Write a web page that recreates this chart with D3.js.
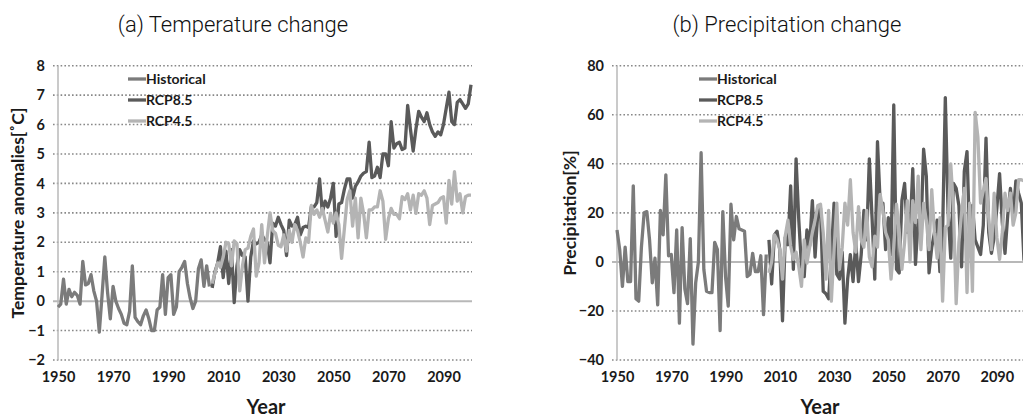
<!DOCTYPE html>
<html>
<head>
<meta charset="utf-8">
<script src="https://cdn.jsdelivr.net/npm/d3@7"></script>
<style>
  body { margin: 0; background: #fff; }
  svg { display: block; }
  .tick text { font-family: Lato, "Open Sans", sans-serif; font-weight: bold; fill: #1a1a1a; }
</style>
</head>
<body>
<div id="chart"></div>
<script>
var width = 1023, height = 417;

// x tick labels
var yearTicks = [1950, 1970, 1990, 2010, 2030, 2050, 2070, 2090];
var tempTicks = [-2, -1, 0, 1, 2, 3, 4, 5, 6, 7, 8];
var precTicks = [-40, -20, 0, 20, 40, 60, 80];
var seriesNames = ["Historical", "RCP8.5", "RCP4.5"];
var seriesColors = ["#7b7b7b", "#5a5a5a", "#b4b4b4"];

// temperature anomalies, historical 1950-2005
var tempHist = [-0.2, -0.1, 0.75, -0.1, 0.4, 0.15, 0.3, 0.2, -0.1, 1.35,
  0.55, 0.6, 0.9, 0.35, 0.0, -1.05, 0.2, 1.5, 0.3, -0.6,
  0.5, 0.0, -0.25, -0.45, -0.75, -0.8, -0.35, 1.2, -0.55, -0.7,
  -0.8, -0.5, -0.3, -0.6, -1.0, -1.0, -0.3, -0.2, 0.9, -0.45,
  0.8, 0.9, -0.45, -0.2, 1.0, 1.15, 1.35, 0.6, 0.1, -0.25,
  0.0, 1.1, 1.4, 0.5, 1.2, 0.5];
// RCP8.5 2006-2100
var tempRcp85 = [0.45, 1.0, 1.3, 1.85, 0.8, 1.7, 0.6, 1.75, -0.05, 1.2,
  1.75, 1.55, 1.5, 0.0, 1.5, 2.05, 1.95, 2.0, 2.25, 2.1,
  2.0, 1.3, 2.65, 2.55, 2.85, 2.6, 2.4, 1.55, 2.75, 2.55,
  2.6, 2.85, 2.25, 2.5, 2.55, 2.5, 3.2, 3.2, 3.35, 4.15,
  3.0, 3.4, 3.2, 3.5, 4.0, 2.2, 3.3, 3.35, 3.8, 4.15,
  4.15, 3.5, 3.9, 4.05, 4.25, 4.35, 4.4, 5.4, 4.2, 4.25,
  4.55, 4.2, 5.0, 5.0, 4.6, 6.1, 5.2, 5.35, 5.4, 5.15,
  5.2, 6.65, 5.85, 5.1, 5.85, 6.45, 6.25, 6.1, 6.4, 6.0,
  5.75, 5.6, 5.75, 5.65, 6.0, 6.55, 7.1, 6.1, 6.0, 6.75,
  6.85, 6.7, 6.55, 6.7, 7.35];
// RCP4.5 2006-2100
var tempRcp45 = [0.6, 0.95, 1.3, 1.15, 1.5, 2.0, 1.95, 1.2, 2.05, 1.95,
  0.35, 1.2, 1.75, 1.8, 2.2, 2.45, 0.85, 1.3, 2.6, 1.3,
  2.2, 3.0, 2.4, 2.3, 1.9, 1.85, 2.25, 1.7, 2.4, 2.0,
  2.6, 2.4, 2.0, 1.5, 2.15, 2.0, 3.25, 2.95, 3.1, 2.85,
  3.15, 2.75, 2.35, 2.98, 2.65, 3.0, 2.6, 1.45, 2.45, 3.45,
  3.75, 2.55, 3.5, 2.15, 3.5, 2.98, 2.15, 3.1, 3.1, 3.2,
  3.2, 3.75, 3.4, 2.1, 2.8, 3.15, 2.95, 2.95, 2.8, 3.55,
  3.45, 3.65, 3.1, 3.6, 2.98, 3.65, 3.6, 3.75, 3.5, 2.6,
  3.25, 3.3, 3.35, 3.5, 3.55, 2.65, 4.1, 3.3, 4.4, 3.4,
  3.65, 3.0, 3.55, 3.6, 3.6];

// precipitation change [%], historical 1950-2005
var precHist = [13, 5, -10, 6, -8, -8, 31, -15, -16, 6,
  20, 20.5, 9, -8.5, 1.5, -17.5, 21, 11, 35.5, 2.5,
  3, -12.5, 13, -25, 14, -11, -17, 9.5, -33.5, -8.5,
  0, 44.5, -3, -12, -12.5, -12.5, 8, 5, -28, 20.5,
  -6, -18, 23.5, 9, 18.5, 13.5, 13, 12.5, -6, -5,
  3.5, -4, -4, 2.5, -21.5, 3];
// RCP8.5 2006-2100
var precRcp85 = [9, -9, 11, 12.5, 5, -24, 10, 7, 31, -3,
  42, 17, -2, -6, 13, 6.5, 25, 2, 20, 22,
  -12, -13, -15, 3, 24, -5, -7, 4, -25, -7,
  3, -8, 8, -8, 3, 21, 9, 42, 18, -7,
  49, 24, 24, 5, 18, 3, 64, -3, -4.5, 25,
  32, 12, 12, 38, -1, 17, 12, 46, 35, -4.5,
  6, 12, 17, -4, 12, 67, 21, 1.5, 32, 30,
  23, -2, 37, 45, 8, 23, 9, 6, 3, 15,
  50.5, 12, 3.5, 10, 22, 36, 16, 3.5, 19, 30,
  18, 33, 28, 24, 0.5];
// RCP4.5 2006-2100
var precRcp45 = [-4.5, 0, 11, 9, 5, -7, 10.5, 17, 6.5, 1,
  4, -2, -10, 9, -0.5, 6, 12, 17, 23, 23.5,
  12, -7, 21, -16, 5, 24, -3, 6, 24, 15,
  33.5, 12, 4, 22.5, 9, 6, 21, 2, -2, 10.5,
  6, 27.5, 21, 12, 9, -7, 6, 23.5, 13, -3,
  8, 25, 0, 25, 16, 35, 5, 24, 17, 5,
  29.5, 12, 1.5, 18, -16, 14, 15, 40, 22, -17,
  8, 20, 30, -12.5, 24, -12, 61, 51, 24, 29,
  34, 18, 5, 28, 10, 1, 12, 28, 21, 28,
  15, 20, 33.5, 33.5, 33];

function toPoints(values, startYear) {
  return values.map(function (v, i) { return { year: startYear + i, value: v }; });
}

var svg = d3.select("#chart").append("svg")
  .attr("width", width)
  .attr("height", height);

function drawPanel(opts) {
  var x = d3.scaleLinear().domain([1950, 2100]).range(opts.xRange);
  var y = d3.scaleLinear().domain(opts.yDomain).range([360, 65.7]);
  var g = svg.append("g");

  // dotted gridlines
  g.append("g").selectAll("line")
    .data(opts.yTicks.filter(function (t) { return t != 0; }))
    .join("line")
    .attr("x1", x(1950) - 5)
    .attr("x2", opts.gridEnd)
    .attr("y1", function (d) { return y(d); })
    .attr("y2", function (d) { return y(d); })
    .attr("stroke", "#888")
    .attr("stroke-width", 1.6)
    .attr("stroke-dasharray", "1.6,2.2");

  // y axis line and zero line
  g.append("line")
    .attr("x1", x(1950)).attr("x2", x(1950))
    .attr("y1", y(opts.yDomain[1])).attr("y2", y(opts.yDomain[0]))
    .attr("stroke", "#b8b8b8").attr("stroke-width", 1.5);
  g.append("line")
    .attr("x1", x(1950) - 5).attr("x2", opts.gridEnd)
    .attr("y1", y(0)).attr("y2", y(0))
    .attr("stroke", "#b8b8b8").attr("stroke-width", 2);

  // tick labels
  var ya = g.append("g")
    .attr("transform", "translate(" + (x(1950) - 13) + ",0)")
    .call(d3.axisLeft(y).tickValues(opts.yTicks).tickSize(0).tickPadding(0));
  ya.select(".domain").remove();
  ya.selectAll("text").style("font-size", "14.5px");

  var xa = g.append("g")
    .attr("transform", "translate(0,372)")
    .call(d3.axisBottom(x).tickValues(yearTicks).tickFormat(d3.format("d")).tickSize(0).tickPadding(0));
  xa.select(".domain").remove();
  xa.selectAll("text").style("font-size", "14.5px");

  // series
  var line = d3.line()
    .x(function (d) { return x(d.year); })
    .y(function (d) { return y(d.value); });
  [0, 1, 2].forEach(function (k) {
    g.append("path")
      .datum(opts.series[k])
      .attr("d", line)
      .attr("fill", "none")
      .attr("stroke", seriesColors[k])
      .attr("stroke-width", 3.3)
      .attr("stroke-linejoin", "round");
  });

  // legend
  var lg = g.append("g").attr("transform", "translate(" + opts.legendX + ",79)");
  seriesNames.forEach(function (name, i) {
    lg.append("line")
      .attr("x1", 0).attr("x2", 18)
      .attr("y1", i * 21).attr("y2", i * 21)
      .attr("stroke", seriesColors[i]).attr("stroke-width", 3.3);
    lg.append("text")
      .attr("x", 18).attr("y", i * 21)
      .attr("dy", "0.35em")
      .style("font-family", "Lato, sans-serif")
      .style("font-weight", "bold")
      .style("font-size", "14px")
      .style("fill", "#1a1a1a")
      .text(name);
  });

  // titles
  svg.append("text")
    .attr("x", opts.titleX).attr("y", 32)
    .attr("text-anchor", "middle")
    .style("font-family", "Roboto, 'Open Sans', sans-serif")
    .style("font-weight", 300)
    .style("font-size", "22px")
    .style("fill", "#111")
    .text(opts.title);

  svg.append("text")
    .attr("x", opts.xLabelX).attr("y", 414)
    .attr("text-anchor", "middle")
    .style("font-family", "Lato, sans-serif")
    .style("font-weight", "bold")
    .style("font-size", "20px")
    .style("fill", "#1a1a1a")
    .text("Year");

  svg.append("text")
    .attr("transform", "translate(" + opts.yLabelX + ",213)rotate(-90)")
    .attr("text-anchor", "middle")
    .attr("dy", "0.35em")
    .style("font-family", "Lato, sans-serif")
    .style("font-weight", "bold")
    .style("font-size", "17.5px")
    .style("fill", "#1a1a1a")
    .text(opts.yLabel);
}

drawPanel({
  xRange: [58, 471],
  gridEnd: 472,
  yDomain: [-2, 8],
  yTicks: tempTicks,
  series: [toPoints(tempHist, 1950), toPoints(tempRcp85, 2006), toPoints(tempRcp45, 2006)],
  legendX: 128,
  title: "(a) Temperature change",
  titleX: 233,
  xLabelX: 266,
  yLabel: "Temperature anomalies[˚C]",
  yLabelX: 18
});

drawPanel({
  xRange: [617, 1024],
  gridEnd: 1023,
  yDomain: [-40, 80],
  yTicks: precTicks,
  series: [toPoints(precHist, 1950), toPoints(precRcp85, 2006), toPoints(precRcp45, 2006)],
  legendX: 699,
  title: "(b) Precipitation change",
  titleX: 787,
  xLabelX: 820,
  yLabel: "Precipitation[%]",
  yLabelX: 570
});
</script>
</body>
</html>
